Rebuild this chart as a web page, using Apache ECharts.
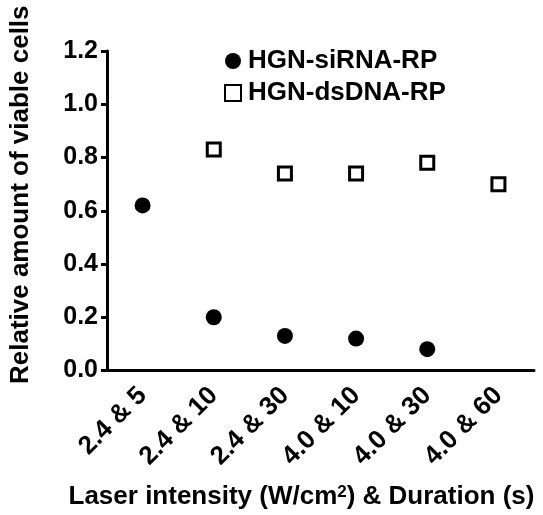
<!DOCTYPE html>
<html>
<head>
<meta charset="utf-8">
<script src="https://cdn.jsdelivr.net/npm/echarts@6/dist/echarts.min.js"></script>
<style>
html,body{margin:0;padding:0;background:#fff;}
#c{width:543px;height:515px;}
</style>
</head>
<body>
<div id="c"></div>
<script>
var categories = ['2.4 & 5', '2.4 & 10', '2.4 & 30', '4.0 & 10', '4.0 & 30', '4.0 & 60'];
var siRNA = [0.62, 0.20, 0.13, 0.12, 0.08, null];
var dsDNA = [null, 0.83, 0.74, 0.74, 0.78, 0.70];
var yTicks = [0, 0.2, 0.4, 0.6, 0.8, 1.0, 1.2];

var FONT = '"Liberation Sans", Arial, Helvetica, sans-serif';
var chart = echarts.init(document.getElementById('c'), null, {renderer: 'canvas'});
chart.setOption({
  animation: false,
  backgroundColor: '#fff',
  textStyle: {fontFamily: FONT, color: '#000', fontWeight: 'bold'},
  grid: {left: 106, right: 9, top: 51, bottom: 138, containLabel: false},
  legend: {
    left: 219, top: 43, orient: 'vertical', itemGap: 6,
    itemWidth: 16, itemHeight: 16,
    textStyle: {fontFamily: FONT, fontSize: 26, fontWeight: 'bold', color: '#000', padding: [0,0,0,2]},
    data: [{name: 'HGN-siRNA-RP', icon: 'circle'}, {name: 'HGN-dsDNA-RP', icon: 'rect'}]
  },
  xAxis: {
    type: 'category', data: categories, boundaryGap: true,
    name: '{a|Laser intensity (W/cm}{s|2}{a|) & Duration (s)}',
    nameLocation: 'middle', nameGap: 113,
    nameTextStyle: {
      padding: [0, 38, 0, 0],
      rich: {
        a: {fontFamily: FONT, fontSize: 26, fontWeight: 'bold', color: '#000'},
        s: {fontFamily: FONT, fontSize: 17, fontWeight: 'bold', color: '#000', verticalAlign: 'top', padding: [0,0,10,0]}
      }
    },
    axisLine: {lineStyle: {color: '#000', width: 3}},
    axisTick: {alignWithLabel: true, length: 6, lineStyle: {color: '#000', width: 3}},
    axisLabel: {rotate: 45, fontSize: 26, fontWeight: 'bold', color: '#000', fontFamily: FONT, margin: 21, interval: 0},
    splitLine: {show: false}
  },
  yAxis: {
    type: 'value', min: 0, max: 1.2, interval: 0.2,
    name: 'Relative amount of viable cells', nameLocation: 'middle', nameGap: 73,
    nameTextStyle: {fontFamily: FONT, fontSize: 26, fontWeight: 'bold', color: '#000', padding: [0,0,0,32]},
    axisLine: {show: true, lineStyle: {color: '#000', width: 3}},
    axisTick: {show: true, length: 6, lineStyle: {color: '#000', width: 3}},
    axisLabel: {fontSize: 25, fontWeight: 'bold', color: '#000', fontFamily: FONT, margin: 9,
      formatter: function (v) { return v.toFixed(1); }},
    splitLine: {show: false}
  },
  series: [
    {name: 'HGN-siRNA-RP', type: 'scatter', data: siRNA, symbol: 'circle', symbolSize: 16,
     itemStyle: {color: '#000', opacity: 1}},
    {name: 'HGN-dsDNA-RP', type: 'scatter', data: dsDNA, symbol: 'rect', symbolSize: 13,
     itemStyle: {color: '#fff', borderColor: '#000', borderWidth: 3, opacity: 1}}
  ]
});
</script>
</body>
</html>
